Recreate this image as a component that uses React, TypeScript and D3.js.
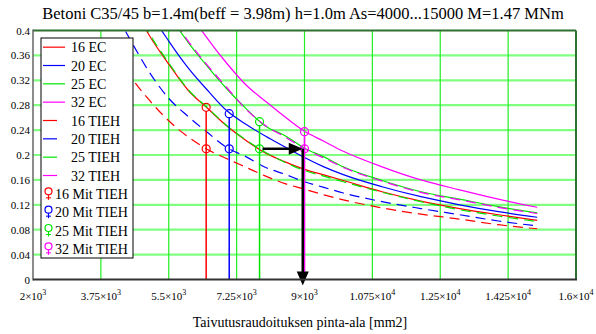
import * as d3 from "d3";
import { useEffect, useRef } from "react";

// reinforcement area As [mm2]
const asValues = [4000, 4500, 5000, 5500, 6000, 6500, 7000, 7500, 8000, 8500, 9000, 9500, 10000, 11000, 12000, 13000, 14000, 15000];

const ec16 = [0.524, 0.45, 0.392, 0.346, 0.304, 0.275, 0.2465, 0.223, 0.203, 0.189, 0.177, 0.168, 0.159, 0.141, 0.126, 0.114, 0.104, 0.095];
const ec20 = [0.584, 0.498, 0.432, 0.383, 0.34, 0.304, 0.271, 0.249, 0.23, 0.213, 0.196, 0.181, 0.1685, 0.149, 0.133, 0.12, 0.109, 0.1];
const ec25 = [0.668, 0.566, 0.488, 0.427, 0.381, 0.342, 0.306, 0.274, 0.246, 0.231, 0.211, 0.197, 0.181, 0.159, 0.141, 0.129, 0.117, 0.107];
const ec32 = [0.763, 0.647, 0.558, 0.488, 0.432, 0.387, 0.347, 0.312, 0.286, 0.261, 0.238, 0.222, 0.206, 0.181, 0.16, 0.144, 0.129, 0.116];
const tieh16 = [0.382, 0.328, 0.288, 0.255, 0.229, 0.209, 0.194, 0.18, 0.166, 0.154, 0.145, 0.136, 0.128, 0.115, 0.105, 0.097, 0.088, 0.0815];
const tieh20 = [0.444, 0.386, 0.333, 0.291, 0.262, 0.236, 0.212, 0.197, 0.18, 0.169, 0.157, 0.148, 0.139, 0.125, 0.114, 0.104, 0.094, 0.086];
const tieh25 = [0.528, 0.454, 0.395, 0.348, 0.305, 0.276, 0.247, 0.224, 0.204, 0.188, 0.175, 0.166, 0.157, 0.14, 0.125, 0.112, 0.102, 0.093];
const tieh32 = [0.672, 0.57, 0.491, 0.43, 0.383, 0.344, 0.308, 0.273, 0.247, 0.229, 0.21, 0.195, 0.18, 0.158, 0.14, 0.128, 0.116, 0.106];

// "Mit TIEH" points (stems)
const markerAs = [6465, 7059, 7841, 9000];
const markerUpper = [0.2766, 0.2664, 0.2535, 0.2374];
const markerLower = [0.21, 0.21, 0.21, 0.21];

const bars = ["16", "20", "25", "32"];
const colors = ["#ff0000", "#0000ff", "#00e600", "#ff00ff"];

const xTicks = [2000, 3750, 5500, 7250, 9000, 10750, 12500, 14250, 16000];
const yTicks = [0, 0.04, 0.08, 0.12, 0.16, 0.2, 0.24, 0.28, 0.32, 0.36, 0.4];

// annotation arrow: from 25 Mit TIEH to 32 Mit TIEH, then down to the axis
const arrowFromAs = 7841;
const arrowToAs = 8955;
const arrowLevel = 0.21;
const arrowBottom = -0.0096;

const title = "Betoni C35/45 b=1.4m(beff = 3.98m) h=1.0m As=4000...15000 M=1.47 MNm";
const xTitle = "Taivutusraudoituksen pinta-ala [mm2]";

export default function App() {
  const ref = useRef<SVGSVGElement>(null);

  useEffect(() => {
    if (!ref.current) return;
    const svg = d3.select(ref.current);
    svg.selectAll("*").remove();

    const W = 596, H = 334;
    const left = 33, right = 576, top = 30.5, bottom = 279.5;
    const font = "'Liberation Serif', 'Times New Roman', serif";

    const x = d3.scaleLinear().domain([2000, 16000]).range([left, right]);
    const y = d3.scaleLinear().domain([0, 0.4]).range([bottom, top]);

    svg.attr("width", W).attr("height", H).attr("viewBox", `0 0 ${W} ${H}`);
    svg.append("rect").attr("width", W).attr("height", H).attr("fill", "#fff");

    svg.append("defs").append("clipPath").attr("id", "plot-clip")
      .append("rect").attr("x", left).attr("y", top).attr("width", right - left).attr("height", bottom - top);

    // grid
    svg.append("g").selectAll("line")
      .data(yTicks.slice(1, -1))
      .join("line")
      .attr("x1", left).attr("x2", right)
      .attr("y1", d => y(d)).attr("y2", d => y(d))
      .attr("stroke", "#80ff80").attr("stroke-width", 2.2);
    svg.append("g").selectAll("line")
      .data(xTicks.slice(1, -1))
      .join("line")
      .attr("x1", d => x(d)).attr("x2", d => x(d))
      .attr("y1", top).attr("y2", bottom)
      .attr("stroke", "#22ee22").attr("stroke-width", 1.2);

    // curves
    const line = d3.line<number>()
      .x((_, i) => x(asValues[i]))
      .y(d => y(d))
      .curve(d3.curveMonotoneX);

    const curves = [
      { vals: ec16, c: 0, dash: null },
      { vals: ec20, c: 1, dash: null },
      { vals: ec25, c: 2, dash: null },
      { vals: ec32, c: 3, dash: null },
      { vals: tieh16, c: 0, dash: "10,6" },
      { vals: tieh20, c: 1, dash: "10,6" },
      { vals: tieh25, c: 2, dash: "10,6" },
      { vals: tieh32, c: 3, dash: "10,6" },
    ];
    const cg = svg.append("g").attr("clip-path", "url(#plot-clip)");
    cg.selectAll("path")
      .data(curves)
      .join("path")
      .attr("d", d => line(d.vals))
      .attr("fill", "none")
      .attr("stroke", d => colors[d.c])
      .attr("stroke-width", 1.2)
      .attr("stroke-dasharray", d => d.dash);

    // stems + circles
    const sg = svg.append("g");
    markerAs.forEach((a, i) => {
      sg.append("line")
        .attr("x1", x(a)).attr("x2", x(a))
        .attr("y1", y(0)).attr("y2", y(markerUpper[i]) + 4)
        .attr("stroke", colors[i]).attr("stroke-width", 1.5);
      [markerUpper[i], markerLower[i]].forEach(v => {
        sg.append("circle")
          .attr("cx", x(a)).attr("cy", y(v)).attr("r", 4)
          .attr("fill", "none").attr("stroke", colors[i]).attr("stroke-width", 1.2);
      });
    });

    // arrows
    const ag = svg.append("g");
    const ay = y(arrowLevel);
    const ax = x(arrowToAs);
    ag.append("line")
      .attr("x1", x(arrowFromAs) + 3).attr("x2", ax - 12)
      .attr("y1", ay).attr("y2", ay)
      .attr("stroke", "#000").attr("stroke-width", 2.5);
    ag.append("path")
      .attr("d", `M${ax - 14},${ay - 6}L${ax},${ay}L${ax - 14},${ay + 6}Z`)
      .attr("fill", "#000");
    const by = y(arrowBottom);
    ag.append("line")
      .attr("x1", ax).attr("x2", ax)
      .attr("y1", ay).attr("y2", by - 12)
      .attr("stroke", "#000").attr("stroke-width", 2.5);
    ag.append("path")
      .attr("d", `M${ax - 6},${by - 14}L${ax},${by}L${ax + 6},${by - 14}Z`)
      .attr("fill", "#000");

    // frame
    svg.append("line").attr("x1", left).attr("x2", right).attr("y1", top).attr("y2", top)
      .attr("stroke", "#2f6f2f").attr("stroke-width", 2);
    svg.append("line").attr("x1", right).attr("x2", right).attr("y1", top).attr("y2", bottom)
      .attr("stroke", "#2f6f2f").attr("stroke-width", 2);
    svg.append("line").attr("x1", left).attr("x2", left).attr("y1", top - 1).attr("y2", bottom + 1)
      .attr("stroke", "#666").attr("stroke-width", 1.5);
    svg.append("line").attr("x1", left).attr("x2", right + 1).attr("y1", bottom).attr("y2", bottom)
      .attr("stroke", "#333").attr("stroke-width", 2);

    // y tick labels
    const yfmt = d3.format(".2~f");
    svg.append("g").selectAll("text")
      .data(yTicks)
      .join("text")
      .attr("x", left - 3)
      .attr("y", d => y(d) + 4)
      .attr("text-anchor", "end")
      .attr("font-family", font)
      .attr("font-size", 11)
      .attr("fill", "#000")
      .text(d => yfmt(d));

    // x tick labels (m×10^e)
    const xt = svg.append("g").selectAll("text")
      .data(xTicks)
      .join("text")
      .attr("x", d => x(d))
      .attr("y", 300)
      .attr("text-anchor", "middle")
      .attr("font-family", font)
      .attr("font-size", 11)
      .attr("fill", "#000");
    xt.append("tspan").text(d => {
      const e = Math.floor(Math.log10(d));
      return `${+(d / Math.pow(10, e)).toFixed(3)}×10`;
    });
    xt.append("tspan")
      .attr("dy", -5)
      .attr("font-size", 8)
      .text(d => `${Math.floor(Math.log10(d))}`);

    // titles
    svg.append("text")
      .attr("x", 303).attr("y", 19)
      .attr("text-anchor", "middle")
      .attr("font-family", font).attr("font-size", 16.5)
      .attr("fill", "#000")
      .text(title);
    svg.append("text")
      .attr("x", 300).attr("y", 327)
      .attr("text-anchor", "middle")
      .attr("font-family", font).attr("font-size", 14)
      .attr("fill", "#000")
      .text(xTitle);

    // legend
    const lx = 41, ly = 38, lw = 92, lh = 220;
    const rowH = lh / 12;
    const lg = svg.append("g");
    lg.append("rect").attr("x", lx).attr("y", ly).attr("width", lw).attr("height", lh)
      .attr("fill", "#fff").attr("stroke", "#000").attr("stroke-width", 1);

    const entries = [
      ...bars.map((b, i) => ({ label: `${b} EC`, c: i, kind: "solid" })),
      ...bars.map((b, i) => ({ label: `${b} TIEH`, c: i, kind: "dash" })),
      ...bars.map((b, i) => ({ label: `${b} Mit TIEH`, c: i, kind: "stem" })),
    ];
    entries.forEach((e, i) => {
      const cy = ly + rowH * (i + 0.5);
      if (e.kind === "solid") {
        lg.append("line").attr("x1", lx + 2).attr("x2", lx + 24).attr("y1", cy).attr("y2", cy)
          .attr("stroke", colors[e.c]).attr("stroke-width", 1.2);
      } else if (e.kind === "dash") {
        lg.append("line").attr("x1", lx + 2).attr("x2", lx + 16).attr("y1", cy).attr("y2", cy)
          .attr("stroke", colors[e.c]).attr("stroke-width", 1.2);
      } else {
        lg.append("circle").attr("cx", lx + 7.5).attr("cy", cy - 2.5).attr("r", 3.5)
          .attr("fill", "none").attr("stroke", colors[e.c]).attr("stroke-width", 1.2);
        lg.append("line").attr("x1", lx + 7.5).attr("x2", lx + 7.5).attr("y1", cy + 1).attr("y2", cy + 6)
          .attr("stroke", colors[e.c]).attr("stroke-width", 1.2);
        lg.append("line").attr("x1", lx + 5).attr("x2", lx + 10).attr("y1", cy + 4).attr("y2", cy + 4)
          .attr("stroke", colors[e.c]).attr("stroke-width", 1);
      }
      lg.append("text")
        .attr("x", e.kind === "stem" ? lx + 14 : lx + 30)
        .attr("y", cy + 5)
        .attr("font-family", font).attr("font-size", 14)
        .attr("fill", "#000")
        .text(e.label);
    });
  }, []);

  return <svg ref={ref} style={{ position: "absolute", left: 0, top: 0, display: "block" }} />;
}
